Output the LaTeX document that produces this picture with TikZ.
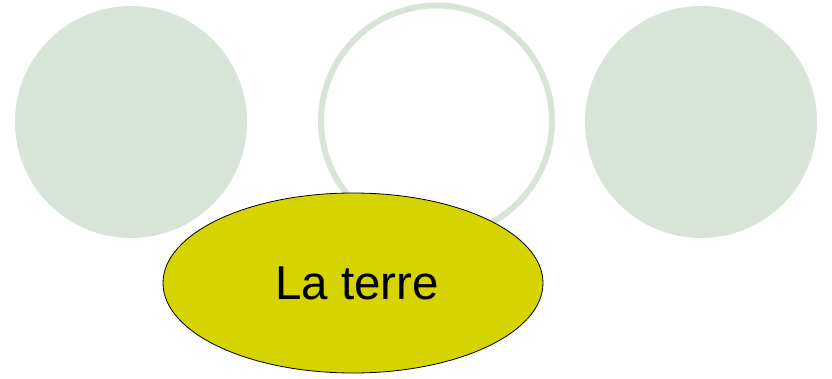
\documentclass[tikz,border=0pt]{standalone}
\usepackage{fontspec}
\setmainfont{Liberation Sans}
\usetikzlibrary{shapes.geometric}
\definecolor{paleGreen}{RGB}{216,228,216}
\definecolor{earthYellow}{RGB}{213,211,0}
\tikzset{x=1pt,y=1pt,
    disc/.style={
        circle,
        fill=paleGreen,
        minimum size=232pt,
        inner sep=0pt},
    ring/.style={
        circle,
        draw=paleGreen,
        line width=6pt,
        minimum size=231pt,
        inner sep=0pt},
    earth/.style={
        ellipse,
        draw=black,
        thick,
        fill=earthYellow,
        minimum width=380pt,
        minimum height=180pt,
        inner sep=0pt,
        font=\fontsize{47.5}{56}\selectfont}}

\begin{document}
\begin{tikzpicture}
        \useasboundingbox (0,0) rectangle (832,-378);
        \node[disc] (left) at (131,-122) {};
        \node[ring] (middle) at (436.5,-121) {};
        \node[disc] (right) at (701,-122) {};
        \node[earth] (terre) at (353,-283) {\hspace{8pt}La terre};
    \end{tikzpicture}
\end{document}
